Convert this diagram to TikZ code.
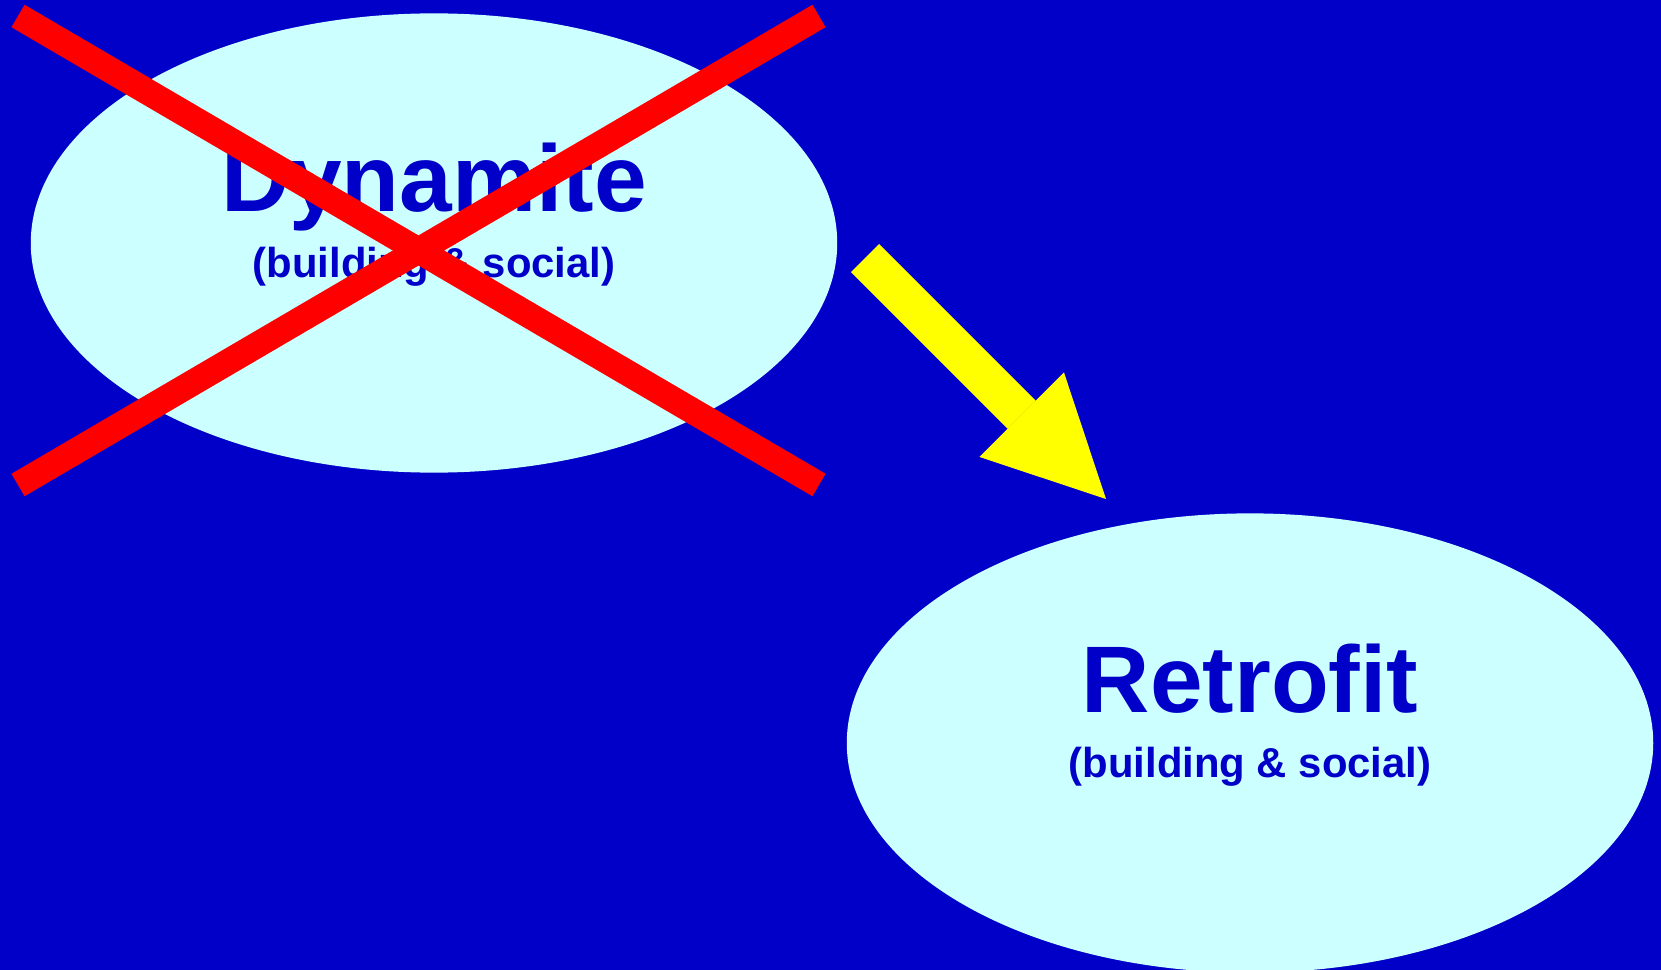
\documentclass[tikz,border=0pt]{standalone}
\usepackage{fontspec}
\setmainfont{Liberation Sans}
\usetikzlibrary{shapes.geometric,arrows.meta,positioning,calc}
\definecolor{bgblue}{RGB}{0,0,200}
\definecolor{paleblue}{RGB}{204,255,255}
\definecolor{crossred}{RGB}{255,0,0}
\definecolor{arrowyellow}{RGB}{255,255,0}

\begin{document}
\begin{tikzpicture}[
  x=0.01cm,y=-0.01cm,
  blob/.style={ellipse,fill=paleblue,inner sep=0pt,minimum width=8.06cm,minimum height=4.59cm},
  title/.style={anchor=base,text=bgblue,font=\fontsize{26.9}{30}\selectfont\bfseries,inner sep=0pt},
  subtitle/.style={anchor=base,text=bgblue,font=\fontsize{11.9}{14}\selectfont\bfseries,inner sep=0pt},
  cross/.style={draw=crossred,line width=7.4pt},
  fatarr/.style={draw=arrowyellow,line width=11.27pt,
    -{Triangle[length=33.9pt,width=34pt,line width=0pt,fill=arrowyellow]}}
]
\fill[bgblue] (0,0) rectangle (1661,970);
\useasboundingbox (0,0) rectangle (1661,970);

\node[blob] (dyn)   at (434,243)  {};
\node[blob] (retro) at (1250,743) {};

\node[title]    (dyntitle)   at ($(dyn)+(0,-31)$)  {Dynamite};
\node[subtitle] (dynsub)     at ($(dyn)+(0,34)$)   {(building \& social)};
\node[title]    (retrotitle) at ($(retro)+(0,-31)$) {Retrofit};
\node[subtitle] (retrosub)   at ($(retro)+(0,34)$)  {(building \& social)};

% the red cross over the old way
\coordinate (xtl) at (18,16);
\coordinate (xbr) at (819,485);
\coordinate (xtr) at (819,16);
\coordinate (xbl) at (18,485);
\draw[cross] (xtl) -- (xbr);
\draw[cross] (xbl) -- (xtr);

% yellow arrow towards retrofit
\coordinate (arrtail) at (865,258);
\coordinate (arrtip)  at (1106,499);
\draw[fatarr] (arrtail) -- (arrtip);
\end{tikzpicture}
\end{document}
